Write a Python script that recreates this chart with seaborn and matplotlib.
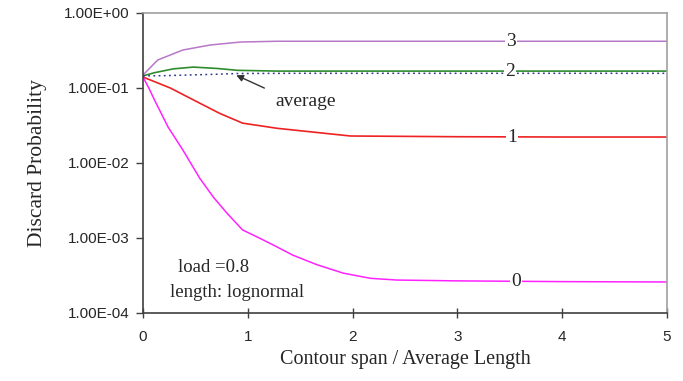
"""Discard probability vs contour span, lognormal length, load 0.8."""

import matplotlib

matplotlib.use("Agg")
import matplotlib.pyplot as plt
import pandas as pd
import seaborn as sns

# curve 3 (purple)
x_3 = [0.0, 0.14, 0.38, 0.64, 0.93, 1.28, 2.0, 3.0, 4.0, 5.0]
y_3 = [0.149, 0.236, 0.321, 0.374, 0.41, 0.42, 0.42, 0.42, 0.42, 0.42]

# curve 2 (green)
x_2 = [0.0, 0.11, 0.29, 0.48, 0.71, 0.9, 1.28, 2.0, 3.0, 4.0, 5.0]
y_2 = [0.145, 0.16, 0.18, 0.19, 0.182, 0.172, 0.168, 0.168, 0.168, 0.168, 0.168]

# average (dotted)
x_avg = [0.0, 0.2, 0.67, 0.9, 1.5, 2.5, 3.5, 5.0]
y_avg = [0.145, 0.146, 0.152, 0.156, 0.157, 0.157, 0.157, 0.157]

# curve 1 (red)
x_1 = [0.0, 0.26, 0.52, 0.73, 0.95, 1.28, 1.72, 1.98, 3.0, 4.0, 5.0]
y_1 = [0.14, 0.10, 0.065, 0.046, 0.034, 0.029, 0.025, 0.0229, 0.0224, 0.0222, 0.0222]

# curve 0 (magenta)
x_0 = [0.0, 0.06, 0.11, 0.24, 0.38, 0.54, 0.67, 0.80, 0.95, 1.09, 1.24, 1.43,
       1.66, 1.91, 2.17, 2.42, 3.0, 4.0, 5.0]
y_0 = [0.14, 0.097, 0.069, 0.030, 0.0149, 0.0063, 0.00352, 0.00215, 0.00128,
       0.00103, 0.00081, 0.00059, 0.00044, 0.00034, 0.00029, 0.000275,
       0.000268, 0.000262, 0.000259]

x_ticks = [0, 1, 2, 3, 4, 5]
y_ticks = [1e-4, 1e-3, 1e-2, 1e-1, 1e0]
y_tick_labels = ["1.00E-04", "1.00E-03", "1.00E-02", "1.00E-01", "1.00E+00"]

sns.set_style("white")
plt.rcParams["font.family"] = ["Liberation Sans", "DejaVu Sans"]
serif = ["Liberation Serif", "DejaVu Serif"]

fig = plt.figure(figsize=(6.83, 3.81), dpi=100)
ax = fig.add_axes([0.2094, 0.1785, 0.7672, 0.7874])

series = [
    (x_3, y_3, "#B878C8", "-", 1.1),
    (x_2, y_2, "#2E8B2E", "-", 1.2),
    (x_avg, y_avg, "#2E3A8C", (0, (1.2, 2.2)), 1.1),
    (x_1, y_1, "#EE2222", "-", 1.2),
    (x_0, y_0, "#FF22FF", "-", 1.1),
]
for xs, ys, color, style, lw in series:
    df = pd.DataFrame({"x": xs, "y": ys})
    sns.lineplot(data=df, x="x", y="y", ax=ax, color=color, linewidth=lw,
                 linestyle=style, sort=False)

ax.set_yscale("log")
ax.set_xlim(0, 5)
ax.set_ylim(1e-4, 1e0)
ax.set_xticks(x_ticks)
ax.set_xticklabels([str(t) for t in x_ticks])
ax.set_yticks(y_ticks)
ax.set_yticklabels(y_tick_labels)
ax.minorticks_off()
ax.tick_params(axis="y", direction="out", length=5, width=1, pad=5,
               labelsize=11, color="#404040", left=True)
ax.tick_params(axis="x", direction="inout", length=7, width=1, pad=9,
               labelsize=11, color="#404040", bottom=True)

for side in ["left", "bottom"]:
    ax.spines[side].set_color("#404040")
    ax.spines[side].set_linewidth(1.2)
for side in ["top", "right"]:
    ax.spines[side].set_color("#A0A0A0")
    ax.spines[side].set_linewidth(1.2)

ax.set_xlabel("Contour span / Average Length", family=serif, fontsize=14.5,
              labelpad=4)
ax.set_ylabel("Discard Probability", family=serif, fontsize=15.5, labelpad=12)

# curve labels with white boxes over the lines
box = dict(facecolor="white", edgecolor="none", pad=1)
for label, xv, yv in [("3", 3.51, 0.42), ("2", 3.5, 0.168),
                      ("1", 3.52, 0.0222), ("0", 3.56, 0.000265)]:
    ax.text(xv, yv, label, family=serif, fontsize=14, ha="center",
            va="center", bbox=box)

ax.annotate("average", xy=(0.89, 0.148), xytext=(1.55, 0.066),
            family=serif, fontsize=14, ha="center", va="center",
            arrowprops=dict(arrowstyle="-|>", color="#333333", lw=1,
                            shrinkA=6, shrinkB=0, mutation_scale=10,
                            relpos=(0.0, 1.0)))

ax.text(0.67, 0.00041, "load =0.8", family=serif, fontsize=13.5,
        ha="center", va="center")
ax.text(0.90, 0.000185, "length: lognormal", family=serif, fontsize=13.5,
        ha="center", va="center")

fig.savefig("out.png", dpi=100)
